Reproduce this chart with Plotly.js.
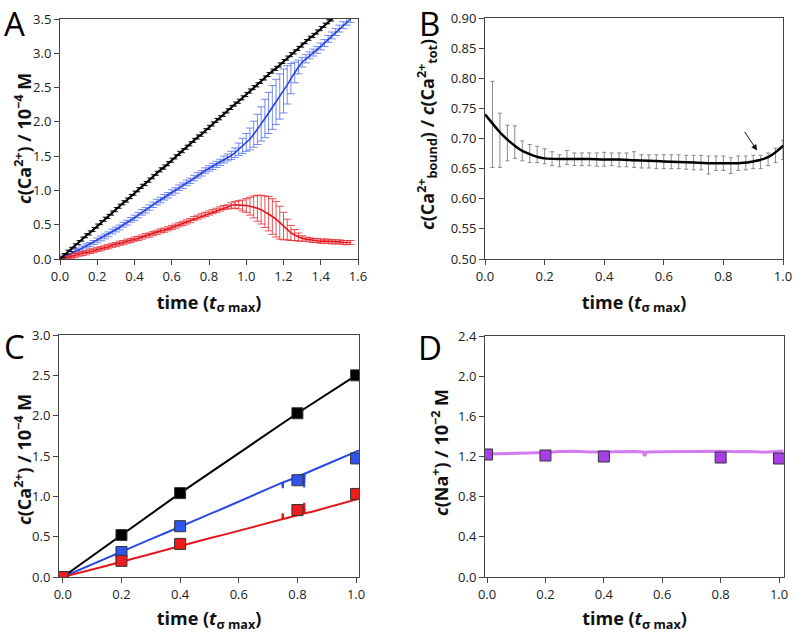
<!DOCTYPE html>
<html>
<head>
<meta charset="utf-8">
<script src="https://cdn.plot.ly/plotly-3.0.1.min.js"></script>
<style>html,body{margin:0;padding:0;background:#fff;}#chart{width:796px;height:633px;}</style>
</head>
<body>
<div id="chart"></div>
<script>
// ---------- Panel A ----------
const tA = [0,0.02,0.04,0.06,0.08,0.10,0.12,0.14,0.16,0.18,0.20,0.22,0.24,0.26,0.28,0.30,0.32,0.34,0.36,0.38,0.40,0.42,0.44,0.46,0.48,0.50,0.52,0.54,0.56,0.58,0.60,0.62,0.64,0.66,0.68,0.70,0.72,0.74,0.76,0.78,0.80,0.82,0.84,0.86,0.88,0.90,0.92,0.94,0.96,0.98,1.00,1.02,1.04,1.06,1.08,1.10,1.12,1.14,1.16,1.18,1.20,1.22,1.24,1.26,1.28,1.30,1.32,1.34,1.36,1.38,1.40,1.42,1.44,1.46,1.48,1.50,1.52,1.54,1.56];
const blackA = [0,0.05,0.10,0.14,0.19,0.24,0.29,0.34,0.38,0.43,0.48,0.53,0.58,0.62,0.67,0.72,0.77,0.82,0.86,0.91,0.96,1.01,1.06,1.10,1.15,1.20,1.25,1.30,1.34,1.39,1.44,1.49,1.54,1.58,1.63,1.68,1.73,1.78,1.82,1.87,1.92,1.97,2.02,2.06,2.11,2.16,2.21,2.26,2.30,2.35,2.40,2.45,2.50,2.54,2.59,2.64,2.69,2.74,2.78,2.83,2.88,2.93,2.98,3.02,3.07,3.12,3.17,3.22,3.26,3.31,3.36,3.41,3.46,3.50,3.55,3.60,3.65,3.70,3.74];
const blueA = [0,0.03,0.05,0.08,0.11,0.13,0.16,0.19,0.21,0.24,0.27,0.30,0.33,0.36,0.40,0.43,0.46,0.50,0.53,0.57,0.60,0.64,0.68,0.71,0.75,0.79,0.83,0.86,0.90,0.93,0.97,1.00,1.04,1.07,1.11,1.14,1.18,1.22,1.25,1.29,1.32,1.35,1.38,1.41,1.45,1.48,1.51,1.55,1.60,1.65,1.70,1.75,1.82,1.89,1.97,2.05,2.13,2.21,2.29,2.37,2.45,2.54,2.63,2.72,2.80,2.87,2.92,2.97,3.01,3.05,3.10,3.15,3.21,3.26,3.31,3.36,3.41,3.46,3.50];
const blueErrA = [0,0.03,0.03,0.03,0.03,0.03,0.03,0.03,0.03,0.03,0.035,0.035,0.035,0.035,0.035,0.035,0.035,0.035,0.035,0.035,0.04,0.04,0.04,0.04,0.04,0.04,0.04,0.04,0.04,0.04,0.04,0.04,0.04,0.04,0.04,0.04,0.04,0.04,0.04,0.04,0.04,0.045,0.045,0.045,0.05,0.05,0.06,0.07,0.09,0.11,0.13,0.16,0.19,0.22,0.25,0.28,0.30,0.32,0.33,0.33,0.32,0.28,0.22,0.15,0.10,0.07,0.06,0.05,0.05,0.05,0.05,0.05,0.05,0.05,0.05,0.05,0.05,0.05,0.05];
const redA = [0,0.01,0.03,0.04,0.05,0.07,0.08,0.09,0.11,0.12,0.14,0.15,0.17,0.18,0.20,0.21,0.23,0.24,0.26,0.27,0.29,0.30,0.32,0.34,0.35,0.37,0.39,0.41,0.42,0.44,0.46,0.48,0.50,0.52,0.54,0.56,0.59,0.61,0.63,0.65,0.67,0.69,0.71,0.73,0.75,0.76,0.78,0.79,0.79,0.78,0.78,0.77,0.76,0.74,0.72,0.69,0.66,0.62,0.58,0.53,0.48,0.43,0.38,0.35,0.32,0.30,0.29,0.28,0.27,0.27,0.26,0.26,0.26,0.25,0.25,0.25,0.24,0.24,0.24];
const redErrA = [0,0.03,0.03,0.03,0.03,0.03,0.03,0.03,0.03,0.03,0.03,0.03,0.03,0.03,0.03,0.03,0.03,0.03,0.03,0.03,0.03,0.03,0.03,0.03,0.03,0.03,0.03,0.03,0.03,0.03,0.03,0.03,0.03,0.03,0.03,0.03,0.03,0.03,0.03,0.03,0.03,0.03,0.03,0.03,0.03,0.03,0.04,0.05,0.06,0.08,0.10,0.13,0.16,0.19,0.21,0.23,0.25,0.26,0.26,0.24,0.20,0.15,0.11,0.08,0.06,0.04,0.03,0.03,0.03,0.03,0.03,0.03,0.03,0.03,0.03,0.03,0.03,0.03,0.03];

// ---------- Panel B ----------
const tBline = [0,0.02,0.04,0.06,0.08,0.10,0.12,0.14,0.16,0.18,0.20,0.25,0.30,0.35,0.40,0.45,0.50,0.55,0.60,0.65,0.70,0.75,0.80,0.85,0.88,0.90,0.92,0.94,0.96,0.98,1.00];
const ratioBline = [0.740,0.728,0.716,0.705,0.696,0.688,0.681,0.676,0.672,0.669,0.667,0.666,0.666,0.666,0.665,0.665,0.664,0.663,0.662,0.661,0.660,0.659,0.659,0.659,0.660,0.662,0.664,0.667,0.672,0.679,0.688];
const tBpts = [0.025,0.05,0.075,0.1,0.125,0.15,0.175,0.2,0.225,0.25,0.275,0.3,0.325,0.35,0.375,0.4,0.425,0.45,0.475,0.5,0.525,0.55,0.575,0.6,0.625,0.65,0.675,0.7,0.725,0.75,0.775,0.8,0.825,0.85,0.875,0.9,0.925,0.95,0.975,1.0];
const ratioBpts = [0.7235,0.697,0.6925,0.694,0.6795,0.675,0.6735,0.6705,0.6665,0.663,0.6685,0.6655,0.6655,0.6655,0.665,0.6655,0.6655,0.6645,0.6645,0.665,0.662,0.662,0.6615,0.6615,0.6615,0.6615,0.6605,0.660,0.660,0.656,0.659,0.659,0.655,0.659,0.6595,0.661,0.661,0.6655,0.672,0.681];
const ratioBerr = [0.0715,0.045,0.0295,0.027,0.0165,0.015,0.0135,0.0125,0.0115,0.010,0.0115,0.0105,0.0105,0.0105,0.011,0.0115,0.0105,0.0115,0.0115,0.013,0.011,0.011,0.0115,0.0115,0.0115,0.0115,0.0115,0.012,0.012,0.015,0.012,0.012,0.013,0.012,0.0115,0.011,0.011,0.0105,0.012,0.016];

// ---------- Panel C ----------
const tC = [0,0.2,0.4,0.8,1.0];
const blackC = [0,0.52,1.04,2.03,2.50];
const blueC = [0,0.31,0.63,1.20,1.47];
const redC = [0,0.20,0.41,0.83,1.03];
const tCline = [0,0.05,0.1,0.15,0.2,0.25,0.3,0.35,0.4,0.45,0.5,0.55,0.6,0.65,0.7,0.748,0.75,0.752,0.8,0.821,0.823,0.825,0.85,0.9,0.95,1.0,1.01];
const blueCline = [0,0.08,0.16,0.235,0.315,0.39,0.47,0.545,0.625,0.70,0.78,0.855,0.935,1.01,1.09,1.17,1.10,1.175,1.24,1.275,1.11,1.28,1.32,1.40,1.475,1.55,1.57];
const redCline = [0,0.045,0.095,0.14,0.19,0.235,0.285,0.335,0.385,0.43,0.48,0.525,0.575,0.62,0.67,0.715,0.79,0.72,0.765,0.785,0.92,0.79,0.81,0.86,0.91,0.96,0.97];

// ---------- Panel D ----------
const tD = [0,0.2,0.4,0.8,1.0];
const naD = [1.22,1.21,1.20,1.19,1.18];
const tDline = [0,0.05,0.1,0.15,0.2,0.25,0.3,0.35,0.4,0.45,0.5,0.535,0.54,0.545,0.6,0.65,0.7,0.75,0.8,0.85,0.9,0.95,1.0,1.015];
const naDline = [1.225,1.228,1.232,1.236,1.240,1.250,1.252,1.246,1.244,1.247,1.250,1.246,1.205,1.245,1.248,1.250,1.246,1.250,1.252,1.248,1.250,1.243,1.255,1.256];

// ---------- Annotation (arrow in B) ----------
const arrowB = {tail:[0.868,0.7135], head:[0.913,0.680]};

// ---------- Texts ----------
const xTitle = '<b>time (<i>t</i><sub>σ max</sub>)</b>';
const yTitleA = '<b><i>c</i>(Ca<sup>2+</sup>) / 10<sup>−4</sup> M</b>';
const yTitleB = '<b><i>c</i>(Ca<sup>2+</sup><sub>bound</sub>) / <i>c</i>(Ca<sup>2+</sup><sub>tot</sub>)</b>';
const yTitleC = '<b><i>c</i>(Ca<sup>2+</sup>) / 10<sup>−4</sup> M</b>';
const yTitleD = '<b><i>c</i>(Na<sup>+</sup>) / 10<sup>−2</sup> M</b>';
const panelLetters = ['A','B','C','D'];

const tickFont = {family:'"Open Sans", "Noto Sans", sans-serif', size:13, color:'#222'};
const titleFont = {family:'"Open Sans", "Noto Sans", sans-serif', size:18, color:'#111'};
const AX = {showline:true, linecolor:'#444', linewidth:1, mirror:true, ticks:'outside', ticklen:5, tickwidth:1, tickcolor:'#444', showgrid:false, zeroline:false, tickfont:tickFont};
const letterFont = {family:'"Open Sans", sans-serif', size:33, color:'#000'};

const traces = [
  // A
  {x:tA, y:blueA, xaxis:'x', yaxis:'y', mode:'lines', line:{color:'#2541e0', width:1.6},
   error_y:{type:'data', array:blueErrA, visible:true, color:'rgba(70,100,235,0.75)', thickness:1, width:4}, showlegend:false},
  {x:tA, y:redA, xaxis:'x', yaxis:'y', mode:'lines', line:{color:'#e3161c', width:1.6},
   error_y:{type:'data', array:redErrA, visible:true, color:'rgba(230,40,45,0.8)', thickness:1, width:4}, showlegend:false},
  {x:tA, y:blackA, xaxis:'x', yaxis:'y', mode:'lines', line:{color:'#000', width:2},
   error_y:{type:'constant', value:0.03, visible:true, color:'#111', thickness:1, width:2}, showlegend:false},
  // B
  {x:tBpts, y:ratioBpts, xaxis:'x2', yaxis:'y2', mode:'markers', marker:{size:1, color:'rgba(0,0,0,0)'},
   error_y:{type:'data', array:ratioBerr, visible:true, color:'#8a8a8a', thickness:1, width:2}, showlegend:false},
  {x:tBline, y:ratioBline, xaxis:'x2', yaxis:'y2', mode:'lines', line:{color:'#000', width:2.5, shape:'spline'}, showlegend:false},
  // C
  {x:tCline, y:blueCline, xaxis:'x3', yaxis:'y3', mode:'lines', line:{color:'#2a4ae6', width:2}, showlegend:false},
  {x:tCline, y:redCline, xaxis:'x3', yaxis:'y3', mode:'lines', line:{color:'#e3161c', width:2}, showlegend:false},
  {x:tC, y:blackC, xaxis:'x3', yaxis:'y3', mode:'lines+markers', line:{color:'#000', width:2},
   marker:{symbol:'square', size:11, color:'#000', line:{color:'#333', width:1}}, showlegend:false},
  {x:tC, y:blueC, xaxis:'x3', yaxis:'y3', mode:'markers',
   marker:{symbol:'square', size:11, color:'#2f55ee', line:{color:'#333', width:1}}, showlegend:false},
  {x:tC, y:redC, xaxis:'x3', yaxis:'y3', mode:'markers',
   marker:{symbol:'square', size:11, color:'#ee1c1c', line:{color:'#333', width:1}}, showlegend:false},
  // D
  {x:tDline, y:naDline, xaxis:'x4', yaxis:'y4', mode:'lines', line:{color:'rgba(205,110,240,0.9)', width:3}, showlegend:false},
  {x:tD, y:naD, xaxis:'x4', yaxis:'y4', mode:'markers',
   marker:{symbol:'square', size:11, color:'#a83ee8', line:{color:'#333', width:1}}, showlegend:false}
];

const W = 796, H = 633;
function dx(a,b){return [a/W, b/W];}
function dy(top,bot){return [1-bot/H, 1-top/H];}
function px(x){return x/W;}
function py(y){return 1-y/H;}

function yTitleAnn(text, x, y){
  return {text:text, xref:'paper', yref:'paper', x:px(x), y:py(y), xanchor:'center', yanchor:'middle', textangle:-90, showarrow:false, font:titleFont};
}
function letterAnn(text, x, y){
  return {text:text, xref:'paper', yref:'paper', x:px(x), y:py(y), xanchor:'center', yanchor:'middle', showarrow:false, font:letterFont};
}

const layout = {
  width:W, height:H, margin:{l:0,r:0,t:0,b:0}, paper_bgcolor:'#fff', plot_bgcolor:'#fff', showlegend:false,
  xaxis: Object.assign({}, AX, {domain:dx(60,358), range:[0,1.6], dtick:0.2, tickformat:'.1f', anchor:'y',
    title:{text:xTitle, font:titleFont, standoff:12}}),
  yaxis: Object.assign({}, AX, {domain:dy(19,259), range:[0,3.5], dtick:0.5, tickformat:'.1f', anchor:'x'}),
  xaxis2: Object.assign({}, AX, {domain:dx(485,783), range:[0,1.0], dtick:0.2, tickformat:'.1f', anchor:'y2',
    title:{text:xTitle, font:titleFont, standoff:12}}),
  yaxis2: Object.assign({}, AX, {domain:dy(18,259), range:[0.5,0.9], dtick:0.05, tickformat:'.2f', anchor:'x2'}),
  xaxis3: Object.assign({}, AX, {domain:dx(59,359), range:[-0.013,1.01], tickvals:[0,0.2,0.4,0.6,0.8,1.0], tickformat:'.1f', anchor:'y3',
    title:{text:xTitle, font:titleFont, standoff:12}}),
  yaxis3: Object.assign({}, AX, {domain:dy(335,577), range:[0,3.0], dtick:0.5, tickformat:'.1f', anchor:'x3'}),
  xaxis4: Object.assign({}, AX, {domain:dx(485,784), range:[-0.007,1.017], tickvals:[0,0.2,0.4,0.6,0.8,1.0], tickformat:'.1f', anchor:'y4',
    title:{text:xTitle, font:titleFont, standoff:12}}),
  yaxis4: Object.assign({}, AX, {domain:dy(336,577), range:[0,2.4], dtick:0.4, tickformat:'.1f', anchor:'x4'}),
  // top inside ticks for A and D
  xaxis5: {overlaying:'x', anchor:'y', side:'top', range:[0,1.6], dtick:0.2, ticks:'inside', ticklen:5, tickcolor:'#444', showticklabels:false, showline:false, showgrid:false, zeroline:false},
  xaxis6: {overlaying:'x4', anchor:'y4', side:'top', range:[-0.007,1.017], tickvals:[0,0.2,0.4,0.6,0.8,1.0], ticks:'inside', ticklen:5, tickcolor:'#444', showticklabels:false, showline:false, showgrid:false, zeroline:false},
  annotations: [
    letterAnn(panelLetters[0], 15, 24),
    letterAnn(panelLetters[1], 430, 24),
    letterAnn(panelLetters[2], 15, 346),
    letterAnn(panelLetters[3], 430, 347),
    yTitleAnn(yTitleA, 23, 139),
    yTitleAnn(yTitleB, 427, 135),
    yTitleAnn(yTitleC, 23, 460),
    yTitleAnn(yTitleD, 440, 452),
    {text:'', xref:'x2', yref:'y2', x:arrowB.head[0], y:arrowB.head[1], ax:arrowB.tail[0], ay:arrowB.tail[1], axref:'x2', ayref:'y2',
     showarrow:true, arrowhead:2, arrowsize:1.2, arrowwidth:1, arrowcolor:'#111'}
  ]
};

Plotly.newPlot('chart', traces, layout, {staticPlot:true, displayModeBar:false});
</script>
</body>
</html>
